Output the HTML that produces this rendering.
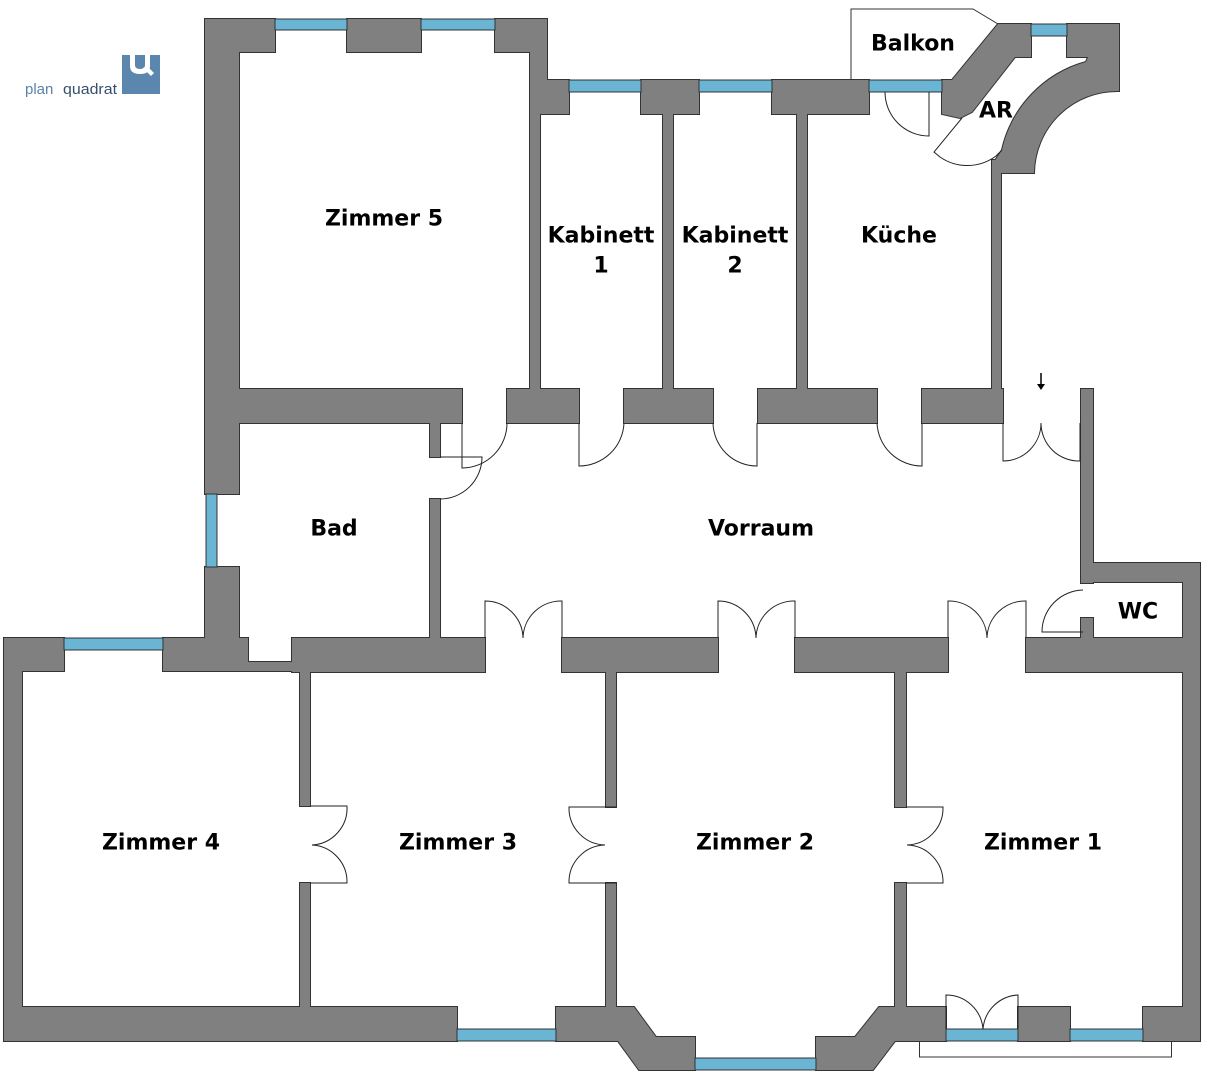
<!DOCTYPE html>
<html><head><meta charset="utf-8"><style>
html,body{margin:0;padding:0;background:#fff;}
svg{display:block;}
text{font-family:"DejaVu Sans","Liberation Sans",sans-serif;font-weight:bold;font-size:22px;fill:#000;}
</style></head><body>
<svg width="1205" height="1080" viewBox="0 0 1205 1080" xmlns="http://www.w3.org/2000/svg">
<defs>
<g id="w">
<rect x="205" y="19" width="34" height="475"/>
<rect x="205" y="19" width="70" height="33"/>
<rect x="347" y="19" width="74" height="33"/>
<rect x="495" y="19" width="52" height="33"/>
<rect x="530" y="19" width="17" height="95"/>
<rect x="530" y="80" width="39" height="34"/>
<rect x="530" y="114" width="10" height="275"/>
<rect x="641" y="80" width="58" height="34"/>
<rect x="772" y="80" width="97" height="34"/>
<rect x="663" y="114" width="10" height="275"/>
<rect x="797" y="114" width="10" height="275"/>
<rect x="205" y="389" width="257" height="34"/>
<rect x="507" y="389" width="72" height="34"/>
<rect x="624" y="389" width="89" height="34"/>
<rect x="758" y="389" width="119" height="34"/>
<rect x="922" y="389" width="81" height="34"/>
<rect x="992" y="160" width="9" height="229"/>
<polygon points="952,80 998,24 1031,24 1031,57 1015,57 972,112 960,118 942,114 942,80"/>
<path d="M1067,36 L1067,24 L1119,24 L1119,91 A83,83 0 0 0 1034,173 L992,173 L992,165 L1002,150 A118,118 0 0 1 1086,62 L1088,57 L1067,57 Z"/>
<rect x="430" y="423" width="10" height="34"/>
<rect x="430" y="499" width="10" height="139"/>
<rect x="205" y="567" width="34" height="71"/>
<rect x="1081" y="389" width="12" height="194"/>
<rect x="1081" y="563" width="119" height="19"/>
<rect x="1183" y="563" width="17" height="478"/>
<rect x="1081" y="618" width="12" height="20"/>
<rect x="4" y="638" width="60" height="33"/>
<rect x="163" y="638" width="85" height="33"/>
<rect x="248" y="662" width="44" height="9"/>
<rect x="292" y="638" width="193" height="34"/>
<rect x="562" y="638" width="156" height="34"/>
<rect x="795" y="638" width="153" height="34"/>
<rect x="1026" y="638" width="157" height="34"/>
<rect x="4" y="638" width="18" height="403"/>
<rect x="300" y="668" width="10" height="138"/>
<rect x="300" y="883" width="10" height="126"/>
<rect x="606" y="668" width="10" height="139"/>
<rect x="606" y="883" width="10" height="126"/>
<rect x="895" y="668" width="11" height="139"/>
<rect x="895" y="883" width="11" height="126"/>
<rect x="4" y="1007" width="453" height="34"/>
<polygon points="556,1007 634,1007 656,1037 695,1037 695,1070 639,1070 618,1041 556,1041"/>
<polygon points="816,1037 855,1037 879,1007 946,1007 946,1041 895,1041 873,1070 816,1070"/>
<rect x="1018" y="1007" width="52" height="34"/>
<rect x="1143" y="1007" width="57" height="34"/>
</g>
</defs>
<polygon points="851,9 973,9 998,24 952,80 851,80" fill="#fff" stroke="#333" stroke-width="1"/>
<rect x="919.5" y="1041" width="252" height="16" fill="#fff" stroke="#333" stroke-width="1"/>
<use href="#w" fill="#333" stroke="#333" stroke-width="2"/>
<use href="#w" fill="#808080" stroke="none"/>
<g fill="#6ab4d4" stroke="#333" stroke-width="1">
<rect x="275" y="19" width="72" height="11"/>
<rect x="421" y="19" width="74" height="11"/>
<rect x="569" y="80" width="72" height="12"/>
<rect x="699" y="80" width="73" height="12"/>
<rect x="869" y="80" width="73" height="12"/>
<rect x="1031" y="24" width="36" height="12"/>
<rect x="206" y="494" width="11" height="73"/>
<rect x="64" y="638" width="99" height="12"/>
<rect x="457" y="1029" width="99" height="12"/>
<rect x="695" y="1058" width="121" height="12"/>
<rect x="946" y="1029" width="72" height="12"/>
<rect x="1070" y="1029" width="73" height="12"/>
</g>
<g fill="none" stroke="#222" stroke-width="1">
<path d="M507,423 A45,45 0 0 1 462,468 L462,423"/>
<path d="M624,423 A45,45 0 0 1 579,466 L579,423"/>
<path d="M713,423 A44,44 0 0 0 757,466 L757,423"/>
<path d="M877,423 A45,45 0 0 0 922,466 L922,423"/>
<path d="M1003,423 L1003,461 A38,38 0 0 0 1041,423 A38,38 0 0 0 1080,461 L1080,423"/>
<path d="M440,457 L482,457 A42,42 0 0 1 440,499"/>
<path d="M885,92 A44,44 0 0 0 929,136 L929,92"/>
<path d="M962,118 L934,152 L940,157 A48,48 0 0 0 996,156 L1002,150"/>
<path d="M1083,632 L1042,632 A42,42 0 0 1 1083,590"/>
<path d="M485,638 L485,601 A38,38 0 0 1 523,638 A38,38 0 0 1 562,601 L562,638"/>
<path d="M718,638 L718,601 A38,38 0 0 1 756,638 A38,38 0 0 1 795,601 L795,638"/>
<path d="M948,638 L948,601 A38,38 0 0 1 987,638 A38,38 0 0 1 1026,601 L1026,638"/>
<path d="M310,806 L347,806 A37,37 0 0 1 312,845 A37,37 0 0 1 347,883 L310,883"/>
<path d="M616,807 L569,807 A37,37 0 0 0 605,845 A37,37 0 0 0 569,883 L616,883"/>
<path d="M906,807 L943,807 A37,37 0 0 1 907,845 A37,37 0 0 1 943,883 L906,883"/>
<path d="M946,1029 L946,995 A37,37 0 0 1 983,1029 A37,37 0 0 1 1018,995 L1018,1029"/>
</g>
<line x1="1041" y1="373" x2="1041" y2="386" stroke="#000" stroke-width="1.5"/>
<polygon points="1037,384 1045,384 1041,390" fill="#000"/>
<g text-anchor="middle" dominant-baseline="central">
<text x="384" y="219">Zimmer 5</text>
<text x="601" y="236">Kabinett</text>
<text x="601" y="266">1</text>
<text x="735" y="236">Kabinett</text>
<text x="735" y="266">2</text>
<text x="899" y="236">Küche</text>
<text x="913" y="44">Balkon</text>
<text x="996" y="111">AR</text>
<text x="334" y="529">Bad</text>
<text x="761" y="529">Vorraum</text>
<text x="1138" y="612">WC</text>
<text x="161" y="843">Zimmer 4</text>
<text x="458" y="843">Zimmer 3</text>
<text x="755" y="843">Zimmer 2</text>
<text x="1043" y="843">Zimmer 1</text>
</g>
<text x="25" y="94" style="font-family:'Liberation Sans',sans-serif;font-weight:normal;font-size:15px;fill:#5a82a6;">plan</text>
<text x="63" y="94" style="font-family:'Liberation Sans',sans-serif;font-weight:normal;font-size:15px;fill:#34506b;" textLength="54" lengthAdjust="spacingAndGlyphs">quadrat</text>
<rect x="122" y="55" width="38" height="39" fill="#5b86ad"/>
<path d="M130,55 L130,66 Q130,74 140,74 Q150,74 150,66 L150,55 L145,55 L145,65 Q145,69 140,69 Q135,69 135,65 L135,55 Z" fill="#fff"/>
<path d="M143,68 L151,76 L154,73 L147,66 Z" fill="#fff"/>
</svg>
</body></html>
